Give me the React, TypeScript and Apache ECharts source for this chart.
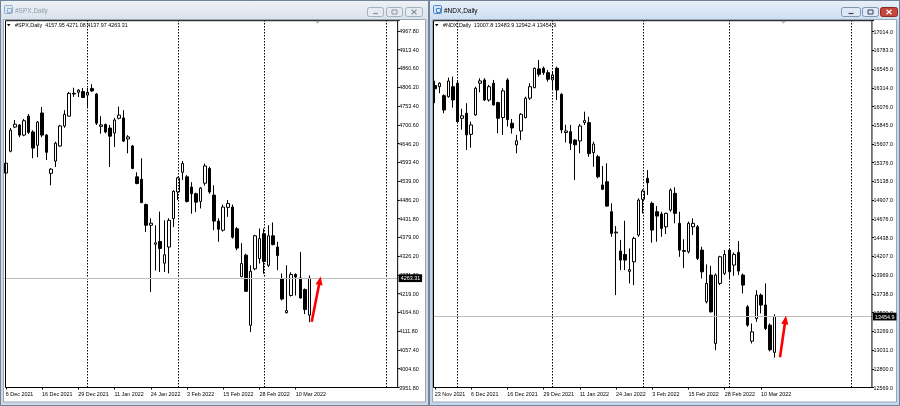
import React, { useEffect, useRef } from 'react';
import * as echarts from 'echarts';

const FONT = '"Liberation Sans", Arial, sans-serif';
const MONTHS = ['Jan', 'Feb', 'Mar', 'Apr', 'May', 'Jun', 'Jul', 'Aug', 'Sep', 'Oct', 'Nov', 'Dec'];

// Trading days (broker calendar) from 23 Nov 2021 to 15 Mar 2022
const tradingDays = [
  '2021-11-23', '2021-11-24', '2021-11-26', '2021-11-29', '2021-11-30',
  '2021-12-01', '2021-12-02', '2021-12-03', '2021-12-06', '2021-12-07', '2021-12-08', '2021-12-09', '2021-12-10',
  '2021-12-13', '2021-12-14', '2021-12-15', '2021-12-16', '2021-12-17', '2021-12-20', '2021-12-21', '2021-12-22', '2021-12-23',
  '2021-12-27', '2021-12-28', '2021-12-29', '2021-12-30',
  '2022-01-03', '2022-01-04', '2022-01-05', '2022-01-06', '2022-01-07', '2022-01-10', '2022-01-11', '2022-01-12', '2022-01-13', '2022-01-14',
  '2022-01-18', '2022-01-19', '2022-01-20', '2022-01-21', '2022-01-24', '2022-01-25', '2022-01-26', '2022-01-27', '2022-01-28', '2022-01-31',
  '2022-02-01', '2022-02-02', '2022-02-03', '2022-02-04', '2022-02-07', '2022-02-08', '2022-02-09', '2022-02-10', '2022-02-11',
  '2022-02-14', '2022-02-15', '2022-02-16', '2022-02-17', '2022-02-18', '2022-02-22', '2022-02-23', '2022-02-24', '2022-02-25', '2022-02-28',
  '2022-03-01', '2022-03-02', '2022-03-03', '2022-03-04', '2022-03-07', '2022-03-08', '2022-03-09', '2022-03-10', '2022-03-11', '2022-03-14', '2022-03-15',
];
const spxDays = tradingDays.slice(8); // from 6 Dec 2021

// #SPX daily OHLC (6 Dec 2021 .. 15 Mar 2022)
const spxOpen = [
  4563, 4625, 4694, 4700, 4671, 4725, 4680, 4642, 4734, 4671,
  4562, 4597, 4640, 4697, 4725, 4790, 4793, 4795, 4785, 4804,
  4788, 4696, 4701, 4691, 4677, 4719, 4720, 4660, 4640, 4552,
  4545, 4473, 4414, 4360, 4368, 4306, 4352, 4433, 4509, 4565,
  4552, 4523, 4504, 4482, 4534, 4576, 4500, 4426, 4400, 4465,
  4466, 4404, 4268, 4329, 4129, 4290, 4319, 4390, 4300, 4384,
  4352, 4262, 4165, 4214, 4274, 4264, 4231, 4157.95,
];
const spxHigh = [
  4614, 4691, 4714, 4702, 4717, 4731, 4685, 4711, 4751, 4674,
  4577, 4652, 4700, 4742, 4794, 4806, 4802, 4805, 4805, 4816,
  4791, 4725, 4704, 4700, 4720, 4752, 4742, 4671, 4643, 4565,
  4605, 4476, 4434, 4414, 4453, 4428, 4434, 4514, 4552, 4597,
  4557, 4537, 4507, 4523, 4590, 4581, 4528, 4434, 4473, 4486,
  4473, 4409, 4363, 4333, 4300, 4387, 4405, 4405, 4414, 4422,
  4367, 4277, 4300, 4280, 4277, 4338, 4234, 4271.08,
];
const spxLow = [
  4534, 4622, 4691, 4665, 4668, 4674, 4605, 4608, 4665, 4600,
  4528, 4580, 4638, 4692, 4725, 4780, 4779, 4777, 4751, 4794,
  4700, 4675, 4676, 4580, 4637, 4716, 4651, 4619, 4574, 4531,
  4477, 4395, 4224, 4285, 4281, 4281, 4277, 4409, 4486, 4543,
  4479, 4447, 4452, 4462, 4527, 4504, 4400, 4367, 4396, 4438,
  4376, 4343, 4266, 4224, 4110, 4286, 4305, 4276, 4295, 4357,
  4286, 4200, 4163, 4211, 4214, 4205, 4161, 4137.97,
];
const spxClose = [
  4591, 4685, 4702, 4671, 4712, 4679, 4634, 4708, 4671, 4622,
  4574, 4648, 4697, 4730, 4790, 4788, 4799, 4778, 4793, 4797,
  4705, 4700, 4680, 4668, 4714, 4728, 4654, 4666, 4576, 4533,
  4479, 4414, 4420, 4364, 4348, 4330, 4428, 4511, 4549, 4590,
  4482, 4504, 4480, 4520, 4583, 4509, 4426, 4403, 4466, 4476,
  4380, 4349, 4305, 4226, 4283, 4384, 4376, 4311, 4384, 4359,
  4328, 4204, 4171, 4274, 4267, 4207, 4174, 4263.31,
];

// #NDX daily OHLC (23 Nov 2021 .. 15 Mar 2022)
const ndxOpen = [
  16340, 16326, 16214, 16201, 16326, 16369, 15930, 15994, 15731, 15973,
  16369, 16410, 16160, 16369, 16127, 15941, 16410, 15869, 15600, 15773,
  15939, 16182, 16314, 16548, 16556, 16501, 16410, 16556, 16231, 15753,
  15764, 15660, 15648, 15877, 15877, 15502, 15451, 15098, 15139, 14764,
  14500, 14273, 14230, 14020, 14139, 14473, 14919, 15181, 14869, 14764,
  14735, 14576, 14785, 14994, 14619, 14280, 14264, 14576, 14577, 14285,
  13639, 13973, 13119, 13869, 13994, 14285, 14098, 14256, 13973, 13577,
  13148, 13431, 13723, 13600, 13348, 13007.8,
];
const ndxHigh = [
  16400, 16381, 16231, 16439, 16451, 16398, 16050, 16119, 15889, 16326,
  16431, 16431, 16348, 16410, 16139, 16306, 16431, 15922, 15723, 15994,
  16201, 16369, 16564, 16660, 16577, 16535, 16514, 16577, 16244, 15850,
  15848, 15670, 15860, 16014, 15950, 15639, 15473, 15335, 15369, 14869,
  14585, 14410, 14652, 14306, 14452, 14931, 15044, 15285, 14890, 14835,
  14764, 14752, 15056, 15069, 14764, 14420, 14640, 14681, 14598, 14327,
  14106, 14089, 13994, 14214, 14285, 14306, 14256, 14398, 13994, 13598,
  13369, 13785, 13744, 13869, 13369, 13483.9,
];
const ndxLow = [
  16120, 16244, 15994, 16189, 16064, 15869, 15790, 15535, 15564, 15964,
  16256, 16148, 16139, 16089, 15744, 15723, 15830, 15740, 15494, 15660,
  15931, 16160, 16306, 16451, 16473, 16389, 16285, 16160, 15744, 15630,
  15535, 15160, 15494, 15848, 15450, 15326, 15181, 15035, 14827, 14451,
  13723, 14035, 14035, 13869, 13848, 14452, 14744, 14973, 14377, 14389,
  14451, 14485, 14764, 14619, 14201, 14060, 14244, 14473, 14160, 13931,
  13619, 13506, 13035, 13848, 13973, 13931, 13964, 13973, 13744, 13327,
  13119, 13389, 13494, 13285, 13020, 12942.4,
];
const ndxClose = [
  16300, 16369, 16035, 16397, 16160, 15889, 15962, 15723, 15848, 16306,
  16398, 16160, 16326, 16098, 15932, 16273, 15915, 15810, 15650, 15981,
  16182, 16326, 16556, 16481, 16501, 16419, 16473, 16285, 15785, 15773,
  15619, 15600, 15835, 15902, 15490, 15610, 15201, 15044, 14835, 14494,
  14510, 14160, 14160, 14040, 14431, 14910, 15023, 15126, 14535, 14710,
  14556, 14744, 15035, 14744, 14285, 14270, 14619, 14619, 14181, 14014,
  13869, 13514, 13973, 14202, 14231, 14014, 14231, 14023, 13848, 13348,
  13264, 13723, 13598, 13306, 13040, 13454.9,
];

// Axis labels
const spxDateLabels = ['2021-12-06', '2021-12-16', '2021-12-29', '2022-01-11', '2022-01-24', '2022-02-03', '2022-02-15', '2022-02-28', '2022-03-10'];
const ndxDateLabels = ['2021-11-23', ...spxDateLabels];
const spxPriceTicks = ['3951.80', '4004.60', '4057.40', '4111.80', '4164.60', '4219.00', '4271.80', '4326.20', '4379.00', '4431.80',
  '4486.20', '4539.00', '4593.40', '4646.20', '4700.60', '4753.40', '4806.20', '4860.60', '4913.40', '4967.80'];
const ndxPriceTicks = ['12569.0', '12800.0', '13031.0', '13269.0', '13500.0', '13738.0', '13969.0', '14207.0', '14438.0', '14676.0',
  '14907.0', '15138.0', '15376.0', '15607.0', '15845.0', '16076.0', '16314.0', '16545.0', '16783.0', '17014.0'];
const spxAxisRange = [3951.8, 4997];
const ndxAxisRange = [12569, 17150];
const spxSeparators = ['2022-01-03', '2022-02-01', '2022-03-01', 'f17'];
const ndxSeparators = ['2021-12-01', '2022-01-03', '2022-02-01', '2022-03-01', 'f17'];
const spxFutureSlots = 19;
const ndxFutureSlots = 21;

const future = (n: number) => Array.from({ length: n }, (_, i) => `f${i + 1}`);

function fmtDate(v: string) {
  if (!v || v[0] === 'f') return '';
  const [y, m, d] = v.split('-');
  return `${parseInt(d, 10)} ${MONTHS[parseInt(m, 10) - 1]} ${y}`;
}

function yFormatter(ticks: string[], min: number, step: number) {
  return (v: number) => {
    const k = Math.round((v - min) / step);
    if (Math.abs(v - (min + k * step)) > step * 0.02) return '';
    return ticks[k] ?? '';
  };
}

const BAR_PX = 4.53;
const GRID_TOP = 20.7;
const GRID_H = 366.8;

interface PanelCfg {
  idx: number;
  firstBarX: number;
  cats: string[];
  labelDates: string[];
  open: number[];
  high: number[];
  low: number[];
  close: number[];
  decimals: number;
  range: number[];
  ticks: string[];
  separators: string[];
}

function panel(c: PanelCfg) {
  const tickMin = parseFloat(c.ticks[0]);
  const step = (parseFloat(c.ticks[c.ticks.length - 1]) - tickMin) / (c.ticks.length - 1);
  const last = c.close[c.close.length - 1];
  const isLabel = (_i: number, v: string) => c.labelDates.includes(v);
  return {
    grid: {
      left: c.firstBarX - BAR_PX / 2,
      top: GRID_TOP,
      width: c.cats.length * BAR_PX,
      height: GRID_H,
      show: false,
    },
    xAxis: {
      type: 'category',
      gridIndex: c.idx,
      data: c.cats,
      boundaryGap: true,
      axisLine: { show: false },
      axisTick: { show: true, alignWithLabel: true, interval: isLabel, length: 2, lineStyle: { color: '#000', width: 1 } },
      axisLabel: {
        interval: isLabel,
        formatter: fmtDate,
        fontSize: 5.4,
        fontFamily: FONT,
        color: '#000',
        align: 'left',
        margin: 3.5,
      },
      splitLine: { show: false },
    },
    yAxis: {
      type: 'value',
      gridIndex: c.idx,
      position: 'right',
      min: c.range[0],
      max: c.range[1],
      interval: step,
      axisLine: { show: false },
      axisTick: { show: true, length: 2, lineStyle: { color: '#000', width: 1 } },
      axisLabel: {
        formatter: yFormatter(c.ticks, tickMin, step),
        fontSize: 5.4,
        fontFamily: FONT,
        color: '#000',
        margin: 1.5,
      },
      splitLine: { show: false },
    },
    series: {
      type: 'candlestick',
      xAxisIndex: c.idx,
      yAxisIndex: c.idx,
      silent: true,
      barWidth: 3,
      data: c.open.map((o, i) => [o, c.close[i], c.low[i], c.high[i]]),
      itemStyle: { color: '#ffffff', color0: '#000000', borderColor: '#000000', borderColor0: '#000000', borderWidth: 1 },
      markLine: {
        silent: true,
        symbol: ['none', 'none'],
        animation: false,
        data: [
          ...c.separators.map((s) => ({
            xAxis: s,
            lineStyle: { color: '#000', type: [1.5, 1.5], width: 1 },
            label: { show: false },
          })),
          {
            yAxis: last,
            lineStyle: { color: '#bdbdbd', type: 'solid', width: 1 },
            label: {
              show: true,
              position: 'end',
              distance: 1,
              formatter: last.toFixed(c.decimals),
              backgroundColor: '#000',
              color: '#fff',
              fontSize: 5.4,
              fontFamily: FONT,
              padding: [1.6, 2, 1.2, 2],
            },
          },
        ],
      },
    },
  };
}

function windowChrome(x: number, w: number, title: string, active: boolean) {
  const els: any[] = [];
  const frameFill = active ? '#c4d7ec' : '#cfd8e3';
  els.push({ type: 'rect', z: -19, shape: { x: x + 0.5, y: 0.5, width: w - 1, height: 405 }, style: { fill: frameFill, stroke: '#72839a', lineWidth: 1 } });
  els.push({
    type: 'rect', z: -18, shape: { x: x + 1, y: 1, width: w - 2, height: 18 },
    style: {
      fill: new echarts.graphic.LinearGradient(0, 0, 0, 1, active
        ? [{ offset: 0, color: '#e8f0f9' }, { offset: 1, color: '#cddff1' }]
        : [{ offset: 0, color: '#eef2f6' }, { offset: 1, color: '#dae2eb' }]),
    },
  });
  // client area
  els.push({ type: 'rect', z: -17, shape: { x: x + 3.5, y: 19.5, width: w - 7, height: 382.5 }, style: { fill: '#ffffff', stroke: '#9aa9ba', lineWidth: 1 } });
  // window icon
  els.push({ type: 'rect', z: -16, shape: { x: x + 4.5, y: 5.5, width: 8, height: 8, r: 1 }, style: { fill: active ? '#d2e5f8' : '#dde8f3', stroke: active ? '#4f86c6' : '#8fb0d4', lineWidth: 1 } });
  els.push({ type: 'rect', z: -16, shape: { x: x + 7.5, y: 8.5, width: 4, height: 4 }, style: { fill: 'none', stroke: active ? '#4f86c6' : '#8fb0d4', lineWidth: 1 } });
  els.push({
    type: 'text', z: -16, x: x + 15, y: 10.5,
    style: { text: title, fontSize: 6.5, fontFamily: FONT, fill: active ? '#000' : '#8e99a7', align: 'left', verticalAlign: 'middle' },
  });
  return els;
}

function buttons(xs: number[], widths: number[], active: boolean) {
  const els: any[] = [];
  const icon = active ? '#33425a' : '#8793a2';
  xs.forEach((bx, i) => {
    const bw = widths[i];
    const isClose = i === 2;
    const fill = isClose && active ? '#c8473c' : active ? '#dfe9f5' : '#e6ebf1';
    const stroke = isClose && active ? '#8c2a22' : active ? '#7f95b0' : '#a3b0bf';
    els.push({ type: 'rect', z: -15, shape: { x: bx + 0.5, y: 7.5, width: bw, height: 9, r: 2 }, style: { fill, stroke, lineWidth: 1 } });
    const cx = bx + 0.5 + bw / 2;
    const col = isClose && active ? '#ffffff' : icon;
    if (i === 0) {
      els.push({ type: 'line', z: -14, shape: { x1: cx - 2.5, y1: 13.5, x2: cx + 2.5, y2: 13.5 }, style: { stroke: col, lineWidth: 1.2 } });
    } else if (i === 1) {
      els.push({ type: 'rect', z: -14, shape: { x: cx - 2.5, y: 10, width: 5, height: 4 }, style: { fill: 'none', stroke: col, lineWidth: 1 } });
    } else {
      els.push({ type: 'line', z: -14, shape: { x1: cx - 2.5, y1: 9.8, x2: cx + 2.5, y2: 14.2 }, style: { stroke: col, lineWidth: 1.2 } });
      els.push({ type: 'line', z: -14, shape: { x1: cx - 2.5, y1: 14.2, x2: cx + 2.5, y2: 9.8 }, style: { stroke: col, lineWidth: 1.2 } });
    }
  });
  return els;
}

function arrow(x1: number, y1: number, x2: number, y2: number) {
  const dx = x2 - x1;
  const dy = y2 - y1;
  const len = Math.hypot(dx, dy);
  const ux = dx / len;
  const uy = dy / len;
  const hl = 8.5;
  const hw = 3.6;
  const bx = x2 - ux * hl;
  const by = y2 - uy * hl;
  return [
    { type: 'line', z: 20, shape: { x1, y1, x2: bx + ux * 1, y2: by + uy * 1 }, style: { stroke: '#ff0000', lineWidth: 2.6 } },
    {
      type: 'polygon', z: 20,
      shape: { points: [[x2, y2], [bx - uy * hw, by + ux * hw], [bx + uy * hw, by - ux * hw]] },
      style: { fill: '#ff0000' },
    },
  ];
}

function header(x: number, sym: string, o: number[], h: number[], l: number[], c: number[], dec: number) {
  const n = c.length - 1;
  const txt = `${sym},Daily  ${o[n].toFixed(dec)} ${h[n].toFixed(dec)} ${l[n].toFixed(dec)} ${c[n].toFixed(dec)}`;
  return [
    { type: 'polygon', z: 20, shape: { points: [[x - 8, 24], [x - 4.5, 24], [x - 6.25, 26.3]] }, style: { fill: '#000' } },
    { type: 'text', z: 20, x, y: 25.3, style: { text: txt, fontSize: 5.4, fontFamily: FONT, fill: '#000', align: 'left', verticalAlign: 'middle' } },
  ];
}

function buildOption() {
  const left = panel({
    idx: 0, firstBarX: 5.8, cats: [...spxDays, ...future(spxFutureSlots)], labelDates: spxDateLabels,
    open: spxOpen, high: spxHigh, low: spxLow, close: spxClose, decimals: 2,
    range: spxAxisRange, ticks: spxPriceTicks, separators: spxSeparators,
  });
  const right = panel({
    idx: 1, firstBarX: 434.8, cats: [...tradingDays, ...future(ndxFutureSlots)], labelDates: ndxDateLabels,
    open: ndxOpen, high: ndxHigh, low: ndxLow, close: ndxClose, decimals: 1,
    range: ndxAxisRange, ticks: ndxPriceTicks, separators: ndxSeparators,
  });

  const leftRightEdge = (5.8 - BAR_PX / 2) + (spxDays.length + spxFutureSlots) * BAR_PX;
  const rightRightEdge = (434.8 - BAR_PX / 2) + (tradingDays.length + ndxFutureSlots) * BAR_PX;

  const graphic: any[] = [
    { type: 'rect', z: -20, shape: { x: 0, y: 0, width: 900, height: 406 }, style: { fill: '#5f6b78' } },
    ...windowChrome(0, 429, '#SPX,Daily', false),
    ...windowChrome(429, 471, '#NDX,Daily', true),
    ...buttons([367, 386, 405], [16, 16, 17], false),
    ...buttons([841, 862, 880], [19, 16, 17], true),
    // chart frames
    { type: 'rect', z: 15, shape: { x: 5.5, y: GRID_TOP, width: leftRightEdge - 5.5, height: GRID_H }, style: { fill: 'none', stroke: '#000', lineWidth: 1 } },
    { type: 'rect', z: 15, shape: { x: 433.5, y: GRID_TOP, width: rightRightEdge - 433.5, height: GRID_H }, style: { fill: 'none', stroke: '#000', lineWidth: 1 } },
    // chart shift markers
    { type: 'polygon', z: 16, shape: { points: [[315, 21.2], [320, 21.2], [317.5, 23.6]] }, style: { fill: '#a9a9a9' } },
    { type: 'polygon', z: 16, shape: { points: [[781, 21.2], [786, 21.2], [783.5, 23.6]] }, style: { fill: '#a9a9a9' } },
    ...header(15, '#SPX', spxOpen, spxHigh, spxLow, spxClose, 2),
    ...header(443, '#NDX', ndxOpen, ndxHigh, ndxLow, ndxClose, 1),
    ...arrow(311.7, 321.7, 320.7, 276.5),
    ...arrow(780, 357.3, 786, 315.8),
  ];

  return {
    animation: false,
    backgroundColor: 'transparent',
    grid: [left.grid, right.grid],
    xAxis: [left.xAxis, right.xAxis],
    yAxis: [left.yAxis, right.yAxis],
    series: [left.series, right.series],
    graphic,
  };
}

export default function App() {
  const ref = useRef<HTMLDivElement>(null);
  useEffect(() => {
    if (!ref.current) return;
    const chart = echarts.init(ref.current, null, { renderer: 'svg', width: 900, height: 406 });
    chart.setOption(buildOption() as any);
    return () => chart.dispose();
  }, []);
  return <div ref={ref} style={{ position: 'fixed', left: 0, top: 0, width: 900, height: 406 }} />;
}
